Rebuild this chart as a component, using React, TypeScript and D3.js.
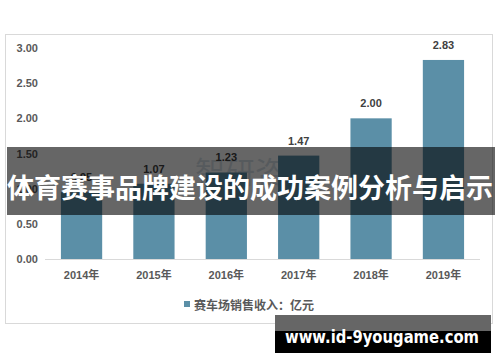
import React from 'react';
import * as d3 from 'd3';

const years = ['2014年', '2015年', '2016年', '2017年', '2018年', '2019年'];
const revenue = [0.95, 1.07, 1.23, 1.47, 2.0, 2.83];
const yTicks = [0, 0.5, 1, 1.5, 2, 2.5, 3];
const legendLabel = '赛车场销售收入：亿元';
const bannerTitle = '体育赛事品牌建设的成功案例分析与启示';
const siteMark = 'www.id-9yougame.com';

const W = 500;
const H = 362;
const barColor = '#5b8fa7';
const font = '"Liberation Sans", "Noto Sans CJK SC", sans-serif';
const cjk = '"Noto Sans CJK SC", sans-serif';

export default function App() {
  const x = d3.scaleBand<string>().domain(years).range([45, 480]).paddingInner(0.43).paddingOuter(0.22);
  const y = d3.scaleLinear().domain([0, 3]).range([259, 48]);

  return (
    <svg
      width={W}
      height={H}
      style={{ position: 'absolute', left: 0, top: 0, background: '#fff' }}
    >
      {/* chart frame */}
      <rect x={5.5} y={34.5} width={487} height={289} fill="#fff" stroke="#d9d9d9" />

      {/* y tick labels */}
      {yTicks.map(t => (
        <text
          key={t}
          x={38}
          y={y(t)}
          textAnchor="end"
          dominantBaseline="central"
          fontFamily={font}
          fontSize={11}
          fontWeight="bold"
          fill="#595959"
        >
          {d3.format('.2f')(t)}
        </text>
      ))}

      {/* faint source watermark */}
      <text
        x={195}
        y={170}
        dominantBaseline="central"
        fontFamily={cjk}
        fontSize={30}
        fill="#2f5f8a"
        opacity={0.18}
      >
        智研咨询
      </text>

      {/* bars */}
      {revenue.map((v, i) => (
        <rect
          key={years[i]}
          x={x(years[i])}
          y={y(v)}
          width={x.bandwidth()}
          height={y(0) - y(v)}
          fill={barColor}
        />
      ))}

      {/* value labels */}
      {revenue.map((v, i) => (
        <text
          key={'v' + years[i]}
          x={(x(years[i]) ?? 0) + x.bandwidth() / 2}
          y={y(v) - 11}
          textAnchor="middle"
          fontFamily={font}
          fontSize={11}
          fontWeight="bold"
          fill="#404040"
        >
          {d3.format('.2f')(v)}
        </text>
      ))}

      {/* x axis */}
      <line x1={45} x2={480} y1={259.5} y2={259.5} stroke="#d9d9d9" />
      {years.map(yr => (
        <text
          key={yr}
          x={(x(yr) ?? 0) + x.bandwidth() / 2}
          y={275}
          textAnchor="middle"
          dominantBaseline="central"
          fontFamily={font}
          fontSize={11}
          fontWeight="bold"
          fill="#595959"
        >
          {yr}
        </text>
      ))}

      {/* legend */}
      <rect x={184} y={301} width={6} height={6} fill={barColor} />
      <text
        x={194}
        y={304}
        dominantBaseline="central"
        fontFamily={cjk}
        fontSize={12}
        fontWeight="bold"
        fill="#595959"
      >
        {legendLabel}
      </text>

      {/* title banner overlay */}
      <rect x={7} y={147} width={488} height={68} fill="#000" opacity={0.6} />
      <text
        x={250}
        y={186}
        textAnchor="middle"
        dominantBaseline="central"
        fontFamily={cjk}
        fontSize={27}
        fontWeight="bold"
        fill="#fff"
        textLength={486}
        lengthAdjust="spacingAndGlyphs"
      >
        {bannerTitle}
      </text>

      {/* site mark */}
      <rect x={275} y={315} width={216} height={16} fill="#666" />
      <rect x={275} y={331} width={216} height={22} fill="#000" />
      <text
        x={285}
        y={343}
        fontFamily='"DejaVu Sans", sans-serif'
        fontSize={18}
        fontWeight="bold"
        fill="#fff"
        textLength={194}
        lengthAdjust="spacingAndGlyphs"
      >
        {siteMark}
      </text>
    </svg>
  );
}
